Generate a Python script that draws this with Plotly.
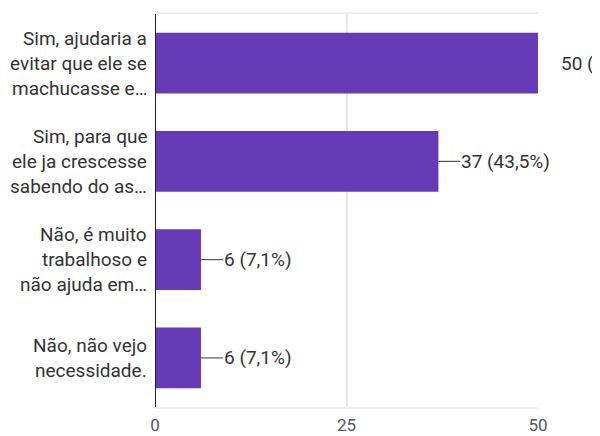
import plotly.graph_objects as go

categories = [
    "Sim, ajudaria a<br>evitar que ele se<br>machucasse e…",
    "Sim, para que<br>ele ja crescesse<br>sabendo do as…",
    "Não, é muito<br>trabalhoso e<br>não ajuda em…",
    "Não, não vejo<br>necessidade.",
]
values = [50, 37, 6, 6]
percent_labels = ["58,8%", "43,5%", "7,1%", "7,1%"]
x_ticks = [0, 25, 50]

BAR = "#673ab7"
TXT = "#333333"
FONT = "Roboto, Arial, sans-serif"

fig = go.Figure()
fig.add_trace(go.Bar(
    x=values, y=categories, orientation="h",
    marker=dict(color=BAR, line=dict(width=0)),
    width=0.62, hoverinfo="skip",
))

annotations = []
shapes = []
LINE_H = 25
for cat, v, p in zip(categories, values, percent_labels):
    lines = cat.split("<br>")
    n = len(lines)
    for i, ln in enumerate(lines):
        annotations.append(dict(
            x=0, xref="paper", y=cat, yref="y", text=ln, showarrow=False,
            xanchor="right", yanchor="middle", xshift=-6,
            yshift=((n - 1) / 2 - i) * LINE_H,
            font=dict(family=FONT, size=19, color=TXT),
        ))
    annotations.append(dict(
        x=v, xref="x", y=cat, yref="y", text=f"{v} ({p})", showarrow=False,
        xanchor="left", yanchor="middle", xshift=21,
        font=dict(family=FONT, size=19, color=TXT),
    ))
    shapes.append(dict(
        type="line", xref="x", yref="y", xsizemode="pixel", xanchor=v,
        x0=0, x1=22, y0=cat, y1=cat,
        line=dict(color="#555555", width=1.2),
    ))

fig.update_layout(
    width=600, height=436,
    margin=dict(l=147, r=70, t=6, b=37),
    paper_bgcolor="white", plot_bgcolor="white",
    showlegend=False,
    annotations=annotations,
    shapes=shapes,
    font=dict(family=FONT, size=18, color=TXT),
    xaxis=dict(
        range=[0, 50], tickvals=x_ticks, ticktext=[str(t) for t in x_ticks],
        showgrid=True, gridcolor="#e8e8e8", gridwidth=1.5,
        zeroline=False, showline=True, linecolor="#efefef", linewidth=1.5, mirror=True,
        ticks="", tickfont=dict(family=FONT, size=17, color="#555555"),
        ticklabelstandoff=2, automargin=False,
    ),
    yaxis=dict(
        categoryorder="array", categoryarray=categories, autorange="reversed",
        showticklabels=False, showgrid=False, zeroline=False,
        showline=False, ticks="", automargin=False,
    ),
)
# dark left axis line drawn at x=0 of the plot area
fig.add_shape(type="line", xref="x", yref="paper", x0=0, x1=0, y0=0, y1=1,
              line=dict(color="#222222", width=2))

fig.write_html("out.html")
